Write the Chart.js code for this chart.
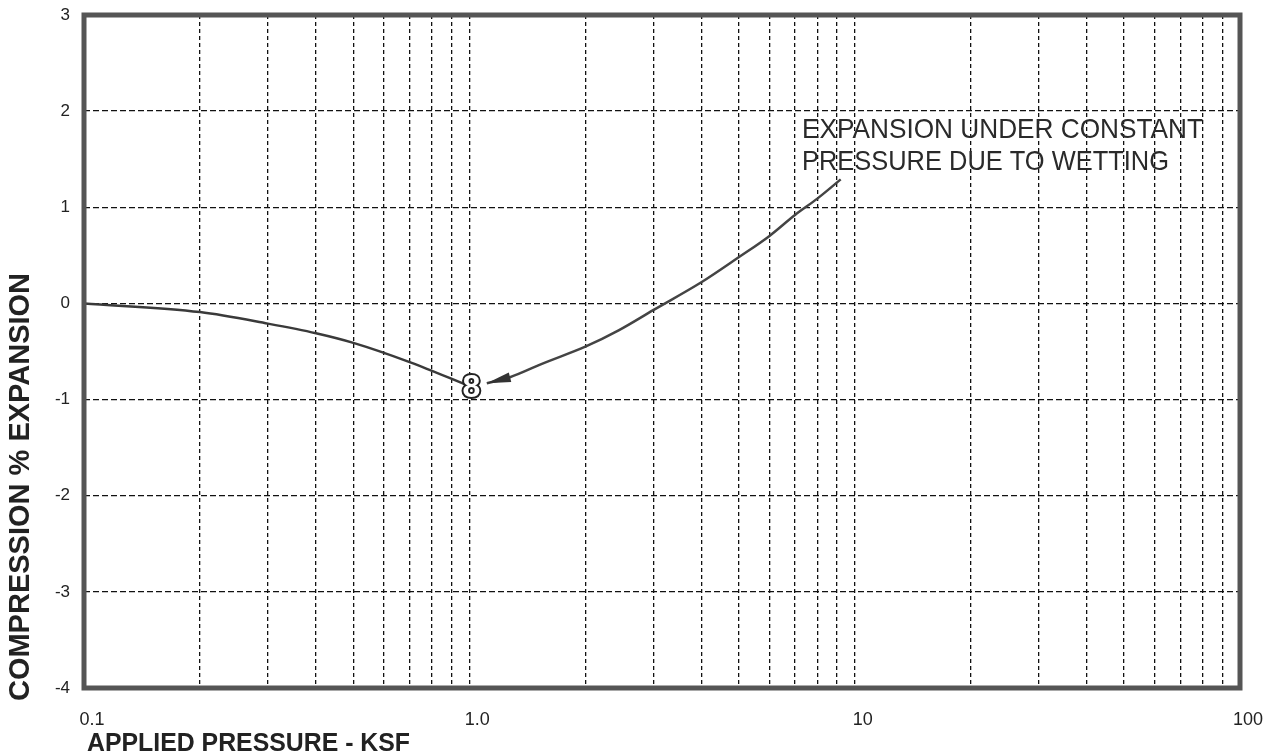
<!DOCTYPE html>
<html>
<head>
<meta charset="utf-8">
<script src="https://cdn.jsdelivr.net/npm/chart.js@4/dist/chart.umd.min.js"></script>
<style>
  html, body { margin: 0; padding: 0; background: #fff; }
  #wrap { width: 1265px; height: 755px; }
</style>
</head>
<body>
<div id="wrap"><canvas id="myChart" width="1265" height="755"></canvas></div>
<script>
// consolidation test curve
const pressure = [0.1, 0.2, 0.3, 0.4, 0.5, 0.7, 1.0]
const strain = [0, -0.09, -0.21, -0.31, -0.41, -0.61, -0.86]

// leader line for the note, tip first
const arrowX = [1.11, 1.27, 1.56, 2, 2.44, 3, 4, 5, 6, 7, 8, 9.2]
const arrowY = [-0.83, -0.77, -0.62, -0.45, -0.28, -0.07, 0.22, 0.48, 0.7, 0.92, 1.09, 1.29]

const xLabels = { "0.1": "0.1", "1": "1.0", "10": "10", "100": "100" }
const yTicks = [-4, -3, -2, -1, 0, 1, 2, 3]
const noteLines = ["EXPANSION UNDER CONSTANT", "PRESSURE DUE TO WETTING"]
const noteAt = { x: 7.3, y: 1.72 }
const pointLabel = "8"
const xTitle = "APPLIED PRESSURE - KSF"
const yTitle = "COMPRESSION % EXPANSION"

const toXY = (xs, ys) => xs.map((x, i) => ({ x: x, y: ys[i] }))

// draw text squeezed to a given width (the scanned lettering is a bit narrow)
function fitText(ctx, text, x, y, w) {
  const m = ctx.measureText(text).width
  ctx.save()
  ctx.translate(x, y)
  ctx.scale(w / m, 1)
  ctx.fillText(text, 0, 0)
  ctx.restore()
}

const extras = {
  id: "extras",
  afterDatasetsDraw(chart) {
    const ctx = chart.ctx
    const a = chart.chartArea
    const xs = chart.scales.x
    const ys = chart.scales.y
    ctx.save()

    // frame
    ctx.strokeStyle = "#555"
    ctx.lineWidth = 5
    ctx.strokeRect(a.left, a.top, a.right - a.left, a.bottom - a.top)

    // arrow head at the tip of the leader
    const tx = xs.getPixelForValue(arrowX[0]), ty = ys.getPixelForValue(arrowY[0])
    const bx = xs.getPixelForValue(arrowX[1]), by = ys.getPixelForValue(arrowY[1])
    const ang = Math.atan2(ty - by, tx - bx)
    const c = Math.cos(ang), s = Math.sin(ang)
    ctx.fillStyle = "#333"
    ctx.beginPath()
    ctx.moveTo(tx, ty)
    ctx.lineTo(tx - 24 * c + 5 * s, ty - 24 * s - 5 * c)
    ctx.lineTo(tx - 24 * c - 5 * s, ty - 24 * s + 5 * c)
    ctx.closePath()
    ctx.fill()

    // sample number at end of curve
    const px = xs.getPixelForValue(pressure[pressure.length - 1]) + 2
    const py = ys.getPixelForValue(strain[strain.length - 1])
    ctx.font = "bold 32px Arial, 'Liberation Sans', sans-serif"
    ctx.textAlign = "center"
    ctx.textBaseline = "alphabetic"
    const mm = ctx.measureText(pointLabel)
    const base = py + (mm.actualBoundingBoxAscent - mm.actualBoundingBoxDescent) / 2
    ctx.lineWidth = 4
    ctx.lineJoin = "round"
    ctx.strokeStyle = "#222"
    ctx.strokeText(pointLabel, px, base)
    ctx.fillStyle = "#fff"
    ctx.fillText(pointLabel, px, base)

    // note text
    ctx.font = "28px Arial, 'Liberation Sans', sans-serif"
    ctx.fillStyle = "#2a2a2a"
    ctx.textAlign = "left"
    const nx = xs.getPixelForValue(noteAt.x), ny = ys.getPixelForValue(noteAt.y)
    fitText(ctx, noteLines[0], nx, ny, 401)
    fitText(ctx, noteLines[1], nx, ny + 32, 367)

    // axis titles
    ctx.fillStyle = "#222"
    ctx.font = "bold 26px Arial, 'Liberation Sans', sans-serif"
    fitText(ctx, xTitle, 87, 751, 323)
    ctx.font = "bold 29px Arial, 'Liberation Sans', sans-serif"
    ctx.translate(29, 487)
    ctx.rotate(-Math.PI / 2)
    ctx.textAlign = "center"
    ctx.fillText(yTitle, 0, 0)
    ctx.restore()
  },
}

const config = {
  type: "line",
  data: {
    datasets: [
      {
        data: toXY(pressure, strain),
        borderColor: "#3a3a3a",
        borderWidth: 2.5,
        pointRadius: 0,
        cubicInterpolationMode: "monotone",
      },
      {
        data: toXY(arrowX, arrowY),
        borderColor: "#444",
        borderWidth: 2.5,
        pointRadius: 0,
        cubicInterpolationMode: "monotone",
      },
    ],
  },
  options: {
    responsive: false,
    animation: false,
    layout: { padding: { left: 0, right: 25, top: 15, bottom: 0 } },
    plugins: { legend: { display: false }, tooltip: { enabled: false } },
    scales: {
      x: {
        type: "logarithmic",
        min: 0.1,
        max: 100,
        afterBuildTicks(scale) {
          const t = []
          for (let e = -1; e <= 1; e++)
            for (let m = 1; m <= 9; m++) t.push({ value: Number((m * Math.pow(10, e)).toPrecision(3)) })
          t.push({ value: 100 })
          scale.ticks = t
        },
        afterFit(scale) {
          scale.height = 67
          scale.paddingLeft = 0
          scale.paddingRight = 0
        },
        ticks: {
          autoSkip: false,
          maxRotation: 0,
          padding: 21,
          labelOffset: 8,
          color: "#222",
          font: { family: "Arial, 'Liberation Sans', sans-serif", size: 18 },
          callback: (v) => xLabels[String(v)] || "",
        },
        grid: { color: "#111", lineWidth: 1.3, drawTicks: false },
        border: { display: false, dash: [4, 3] },
      },
      y: {
        min: -4,
        max: 3,
        afterBuildTicks(scale) { scale.ticks = yTicks.map((v) => ({ value: v })) },
        afterFit(scale) {
          scale.width = 84
          scale.paddingTop = 0
          scale.paddingBottom = 0
        },
        ticks: {
          padding: 14,
          color: "#222",
          font: { family: "Arial, 'Liberation Sans', sans-serif", size: 17 },
        },
        grid: { color: "#111", lineWidth: 1.3, drawTicks: false },
        border: { display: false, dash: [6, 3] },
      },
    },
  },
  plugins: [extras],
}

const myChart = new Chart(document.getElementById("myChart"), config)
</script>
</body>
</html>
